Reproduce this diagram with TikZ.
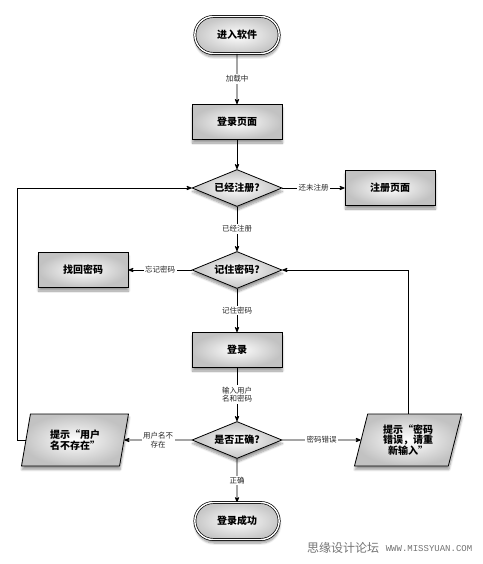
\documentclass[tikz,border=0pt]{standalone}
\usepackage{fontspec}
\setmainfont{Noto Sans CJK SC}
\newfontfamily\wmfont{Liberation Mono}
\usetikzlibrary{arrows,positioning,shapes.geometric,shapes.misc,shadows.blur}

\begin{document}
\begin{tikzpicture}[x=1pt,y=-1pt,>=stealth',on grid,
  shadowed/.style={blur shadow={shadow xshift=0.5pt,shadow yshift=-3.5pt,shadow opacity=40,shadow blur steps=8}},
  term/.style={rounded rectangle,draw,double,double distance=1.4pt,line width=0.7pt,
    minimum width=91pt,minimum height=37pt,inner color=white,outer color=black!22,shadowed,
    font=\fontsize{10}{12}\selectfont\bfseries},
  box/.style={rectangle,draw,line width=0.8pt,minimum width=90pt,minimum height=35pt,
    inner color=white,outer color=black!24,shadowed,font=\fontsize{10}{12}\selectfont\bfseries},
  choice/.style={diamond,draw,line width=0.8pt,aspect=2.4,inner sep=0pt,
    minimum width=90pt,minimum height=37pt,inner color=white,outer color=black!24,shadowed,
    font=\fontsize{10}{12}\selectfont\bfseries},
  note/.style={trapezium,trapezium left angle=68,trapezium right angle=112,
    trapezium stretches body,draw,line width=0.8pt,minimum width=107pt,minimum height=52pt,
    inner sep=1pt,align=center,inner color=white,outer color=black!24,shadowed,
    font=\fontsize{10}{10.5}\selectfont\bfseries},
  lbl/.style={fill=white,inner sep=1.5pt,align=center,text=black!85,font=\fontsize{7.5}{8.5}\selectfont},
  wmark/.style={text=black!55,inner sep=0pt}]
  \useasboundingbox (0,0) rectangle (482,564);
  % Main column
  \node[term] (A) at (237,35) {进入软件};
  \node[box] (B) [below=87pt of A] {登录页面};
  \node[choice] (C) [below=66pt of B] {已经注册?};
  \node[box] (D) [right=153pt of C] {注册页面};
  \node[choice] (E) [below=82pt of C] {记住密码?};
  \node[box] (F) [left=154pt of E] {找回密码};
  \node[box] (G) [below=80pt of E] {登录};
  \node[choice] (H) [below=90pt of G] {是否正确?};
  \node[note] (I) [left=162pt of H] {提示“用户\\名不存在”};
  \node[note] (J) [right=171pt of H] {提示“密码\\错误，请重\\新输入”};
  \node[term] (K) [below=81pt of H] {登录成功};
\path[->,line width=0.8pt] (A) edge node[lbl] {加载中} (B)
  (B) edge (C)
  (C) edge node[lbl] {还未注册} (D)
  (C) edge node[lbl] {已经注册} (E)
  (E) edge node[lbl] {忘记密码} (F)
  (E) edge node[lbl] {记住密码} (G)
  (G) edge node[lbl] {输入用户\\名和密码} (H)
  (H) edge node[lbl] {用户名不\\存在} (I)
  (H) edge node[lbl] {密码错误} (J)
  (H) edge node[lbl] {正确} (K);
	% Draw loops back
    \draw[->,line width=0.8pt] (I.west) -- ++(-8,0) |- (C.west);
    \draw[->,line width=0.8pt] (J.north) |- (E.east);
  \node[wmark,font=\fontsize{12}{12}\selectfont] (W1) at (343,548) {思缘设计论坛};
  \node[wmark,font=\wmfont\fontsize{9}{9}\selectfont] (W2) at (429,549) {WWW.MISSYUAN.COM};
\end{tikzpicture}
\end{document}
